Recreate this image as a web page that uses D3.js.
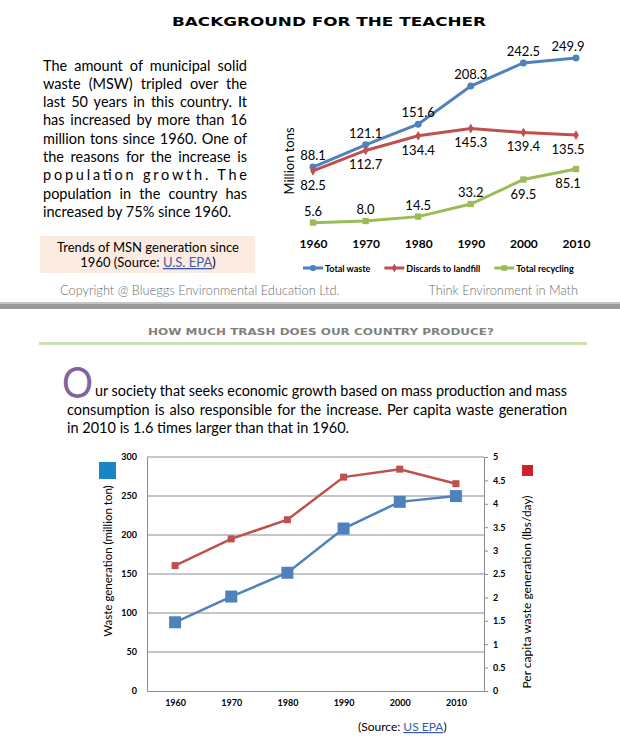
<!DOCTYPE html>
<html>
<head>
<meta charset="utf-8">
<script src="https://cdn.jsdelivr.net/npm/d3@7"></script>
<style>
body { margin: 0; background: #fff; }
svg { display: block; font-family: Lato, "Open Sans", sans-serif; }
</style>
</head>
<body>
<svg id="page"></svg>
<script>
// values
var years = [1960, 1970, 1980, 1990, 2000, 2010];
var totalWaste = [88.1, 121.1, 151.6, 208.3, 242.5, 249.9];
var discards = [82.5, 112.7, 134.4, 145.3, 139.4, 135.5];
var recycling = [5.6, 8.0, 14.5, 33.2, 69.5, 85.1];
var perCapita = [2.68, 3.25, 3.66, 4.57, 4.74, 4.43];
var seriesNames = ["Total waste", "Discards to landfill", "Total recycling"];
var leftTicks = [0, 50, 100, 150, 200, 250, 300];
var rightTicks = [0, 0.5, 1, 1.5, 2, 2.5, 3, 3.5, 4, 4.5, 5];

var introLines = [
    "The amount of municipal solid",
    "waste (MSW) tripled over the",
    "last 50 years in this country.  It",
    "has increased by more than 16",
    "million tons since 1960. One of",
    "the reasons for the increase is",
    "population growth. The",
    "population in the country has",
    "increased by 75%  since 1960."
];
var societyLines = [
    "ur society that seeks economic growth based on mass production and mass",
    "consumption is also responsible for the increase.   Per capita waste generation",
    "in 2010 is 1.6 times larger than that in 1960."
];

var blue = "#4f81bd", red = "#c0504d", green = "#9bbb59";
var fmt1 = d3.format(".1f");

var svg = d3.select("#page").attr("width", 620).attr("height", 738);

// stretch a text line out to a given width, the way Word justifies it
var justify = function(sel, width)
{
    sel.each(function(){
        var node = d3.select(this);
        var natural = this.getComputedTextLength();
        var spaces = (this.textContent.match(/ +/g) || []).length;
        var extra = width - natural;
        if (extra < 0) {
            node.attr("textLength", width).attr("lengthAdjust", "spacingAndGlyphs");
        } else if (spaces >= 3 && extra / spaces < 10) {
            node.attr("word-spacing", extra / spaces);
        } else {
            node.attr("textLength", width).attr("lengthAdjust", "spacing");
        }
    });
}

// ---------- header ----------
svg.append("text")
    .attr("x", 172).attr("y", 26)
    .attr("font-family", "DejaVu Sans").attr("font-weight", "bold")
    .attr("font-size", 12.5)
    .attr("textLength", 314).attr("lengthAdjust", "spacingAndGlyphs")
    .text("BACKGROUND FOR THE TEACHER");

svg.append("g")
    .selectAll("text")
    .data(introLines)
    .enter()
    .append("text")
    .attr("x", 43)
    .attr("y", function(d, i){ return 70.5 + i * 18.3; })
    .attr("font-size", 14.5)
    .attr("fill", "#000")
    .text(function(d){ return d; })
    .filter(function(d, i){ return i < introLines.length - 1; })
    .call(justify, 204);

svg.append("rect")
    .attr("x", 40).attr("y", 236).attr("width", 215).attr("height", 37)
    .attr("fill", "#fcebe0");

var caption = svg.append("g").attr("font-size", 13).attr("text-anchor", "middle").attr("fill", "#000");
caption.append("text").attr("x", 148).attr("y", 252).text("Trends of MSN generation since");
var cap2 = caption.append("text").attr("x", 148).attr("y", 267);
cap2.append("tspan").text("1960 (Source: ");
cap2.append("tspan").attr("fill", "#3b5bab").attr("text-decoration", "underline").text("U.S. EPA");
cap2.append("tspan").text(")");

// ---------- top chart ----------
var topX = d3.scalePoint().domain(years).range([313, 576]);
var topY = d3.scaleLinear().domain([0, 250]).range([226.4, 57.9]);

var topSeries = [
    {name: seriesNames[0], values: totalWaste, color: blue, marker: d3.symbolCircle, size: 38, place: "above"},
    {name: seriesNames[1], values: discards, color: red, marker: d3.symbolDiamond, size: 28, place: "below"},
    {name: seriesNames[2], values: recycling, color: green, marker: d3.symbolSquare, size: 40, place: "mixed"}
];

var topLine = d3.line()
    .x(function(d, i){ return topX(years[i]); })
    .y(function(d){ return topY(d); });

var topChart = svg.append("g").attr("id", "topChart");

topChart.selectAll("path.series")
    .data(topSeries)
    .enter()
    .append("path")
    .attr("class", "series")
    .attr("fill", "none")
    .attr("stroke", function(s){ return s.color; })
    .attr("stroke-width", 3)
    .attr("d", function(s){ return topLine(s.values); });

topSeries.forEach(function(s){
    var g = topChart.append("g");
    g.selectAll("path")
        .data(s.values)
        .enter()
        .append("path")
        .attr("d", d3.symbol().type(s.marker).size(s.size))
        .attr("fill", s.color)
        .attr("transform", function(d, i){ return "translate(" + topX(years[i]) + "," + topY(d) + ")"; });

    g.selectAll("text")
        .data(s.values)
        .enter()
        .append("text")
        .attr("text-anchor", "middle")
        .attr("font-size", 13)
        .attr("fill", "#000")
        .attr("x", function(d, i){ return Math.min(topX(years[i]), 568); })
        .attr("y", function(d, i){
            var above = s.place == "above" || (s.place == "mixed" && i < 4);
            return above ? topY(d) - 7 : topY(d) + 19;
        })
        .text(function(d){ return fmt1(d); });
});

var topAxis = topChart.append("g")
    .attr("transform", "translate(0,236)")
    .call(d3.axisBottom(topX).tickSize(0).tickPadding(3).tickFormat(d3.format("d")));
topAxis.select(".domain").remove();
topAxis.selectAll("text")
    .attr("font-family", "Lato, sans-serif")
    .attr("font-size", 12)
    .attr("font-weight", "bold")
    .attr("fill", "#000");

topChart.append("text")
    .attr("transform", "translate(294,161) rotate(-90)")
    .attr("text-anchor", "middle")
    .attr("font-size", 13)
    .attr("fill", "#000")
    .text("Million tons");

// legend
var legendX = 303;
topSeries.forEach(function(s){
    var item = topChart.append("g").attr("transform", "translate(" + legendX + ",268)");
    item.append("line")
        .attr("x1", 0).attr("x2", 20)
        .attr("stroke", s.color).attr("stroke-width", 3);
    item.append("path")
        .attr("d", d3.symbol().type(s.marker).size(s.size * 0.8))
        .attr("transform", "translate(10,0)")
        .attr("fill", s.color);
    var label = item.append("text")
        .attr("x", 22).attr("y", 3.5)
        .attr("font-size", 9).attr("font-weight", "bold")
        .attr("fill", "#000")
        .text(s.name);
    legendX += 22 + label.node().getComputedTextLength() + 14;
});

// ---------- footer / separator ----------
svg.append("text")
    .attr("x", 60).attr("y", 294.5)
    .attr("font-size", 12.8).attr("font-weight", 300)
    .attr("fill", "#6e6e6e")
    .text("Copyright @ Blueggs Environmental Education Ltd.");
svg.append("text")
    .attr("x", 578).attr("y", 294.5)
    .attr("text-anchor", "end")
    .attr("font-size", 12.8).attr("font-weight", 300)
    .attr("fill", "#6e6e6e")
    .text("Think Environment in Math");

svg.append("rect").attr("x", 0).attr("y", 302).attr("width", 620).attr("height", 2).attr("fill", "#c4c4c4");
svg.append("rect").attr("x", 0).attr("y", 304).attr("width", 620).attr("height", 5).attr("fill", "#999");

svg.append("text")
    .attr("x", 148).attr("y", 334.5)
    .attr("font-family", "DejaVu Sans").attr("font-weight", "bold")
    .attr("font-size", 9.5)
    .attr("fill", "#808080")
    .attr("textLength", 346).attr("lengthAdjust", "spacingAndGlyphs")
    .text("HOW MUCH TRASH DOES OUR COUNTRY PRODUCE?");

svg.append("rect").attr("x", 39).attr("y", 342).attr("width", 548).attr("height", 3).attr("fill", "#cfdfb4");

// ---------- second paragraph ----------
svg.append("text")
    .attr("x", 62).attr("y", 398)
    .attr("font-size", 42)
    .attr("fill", "#8064a2")
    .attr("textLength", 31).attr("lengthAdjust", "spacingAndGlyphs")
    .text("O");

var society = svg.append("g").attr("font-size", 14.5).attr("fill", "#000");
society.selectAll("text")
    .data(societyLines)
    .enter()
    .append("text")
    .attr("x", function(d, i){ return i == 0 ? 95 : 67; })
    .attr("y", function(d, i){ return 396 + i * 18.5; })
    .text(function(d){ return d; })
    .each(function(d, i){
        if (i == 0) justify(d3.select(this), 472);
        if (i == 1) justify(d3.select(this), 500);
    });

// ---------- bottom chart ----------
var plot = {left: 147, right: 484, top: 457, bottom: 691};

var botX = d3.scalePoint().domain(years).range([plot.left, plot.right]).padding(0.5);
var yLeft = d3.scaleLinear().domain([0, 300]).range([plot.bottom, plot.top]);
var yRight = d3.scaleLinear().domain([0, 5]).range([plot.bottom, plot.top]);

var bottom = svg.append("g").attr("id", "bottomChart");

bottom.append("g")
    .selectAll("line")
    .data(leftTicks.slice(1))
    .enter()
    .append("line")
    .attr("x1", plot.left).attr("x2", plot.right)
    .attr("y1", function(d){ return yLeft(d); })
    .attr("y2", function(d){ return yLeft(d); })
    .attr("stroke", "#8c8c8c").attr("stroke-width", 1);

var leftAxis = bottom.append("g")
    .attr("transform", "translate(" + plot.left + ",0)")
    .call(d3.axisLeft(yLeft).tickValues(leftTicks).tickSize(0).tickSizeOuter(0).tickPadding(10));

var rightAxis = bottom.append("g")
    .attr("transform", "translate(" + plot.right + ",0)")
    .call(d3.axisRight(yRight).tickValues(rightTicks).tickSize(4).tickSizeOuter(0).tickPadding(5).tickFormat(d3.format("~")));

var xAxis = bottom.append("g")
    .attr("transform", "translate(0," + plot.bottom + ")")
    .call(d3.axisBottom(botX).tickSize(0).tickSizeOuter(0).tickPadding(9).tickFormat(d3.format("d")));

[leftAxis, rightAxis, xAxis].forEach(function(ax){
    ax.select(".domain").attr("stroke", "#8c8c8c");
    ax.selectAll(".tick line").attr("stroke", "#8c8c8c");
    ax.selectAll("text")
        .attr("font-family", "Lato, sans-serif")
        .attr("font-size", 9)
        .attr("font-weight", "bold")
        .attr("fill", "#000");
});

var wasteLine = d3.line()
    .x(function(d, i){ return botX(years[i]); })
    .y(function(d){ return yLeft(d); });
var capitaLine = d3.line()
    .x(function(d, i){ return botX(years[i]); })
    .y(function(d){ return yRight(d); });

bottom.append("path")
    .attr("fill", "none").attr("stroke", red).attr("stroke-width", 2.5)
    .attr("d", capitaLine(perCapita));
bottom.append("g")
    .selectAll("rect")
    .data(perCapita)
    .enter()
    .append("rect")
    .attr("x", function(d, i){ return botX(years[i]) - 3.5; })
    .attr("y", function(d){ return yRight(d) - 3.5; })
    .attr("width", 7).attr("height", 7)
    .attr("fill", red);

bottom.append("path")
    .attr("fill", "none").attr("stroke", blue).attr("stroke-width", 2.5)
    .attr("d", wasteLine(totalWaste));
bottom.append("g")
    .selectAll("rect")
    .data(totalWaste)
    .enter()
    .append("rect")
    .attr("x", function(d, i){ return botX(years[i]) - 6; })
    .attr("y", function(d){ return yLeft(d) - 6; })
    .attr("width", 12).attr("height", 12)
    .attr("fill", blue);

// axis titles and their colour keys
bottom.append("text")
    .attr("transform", "translate(112,561) rotate(-90)")
    .attr("text-anchor", "middle")
    .attr("font-size", 11.5).attr("fill", "#000")
    .text("Waste generation (million ton)");
bottom.append("text")
    .attr("transform", "translate(531,592) rotate(-90)")
    .attr("text-anchor", "middle")
    .attr("font-size", 12).attr("fill", "#000")
    .text("Per capita waste generation (lbs/day)");

bottom.append("rect").attr("x", 99).attr("y", 462).attr("width", 17).attr("height", 17).attr("fill", "#1b84c7");
bottom.append("rect").attr("x", 522).attr("y", 465).attr("width", 11).attr("height", 11).attr("fill", "#d01f2e");

var source = bottom.append("text")
    .attr("x", 358).attr("y", 731)
    .attr("font-size", 12).attr("fill", "#000");
source.append("tspan").text("(Source: ");
source.append("tspan").attr("fill", "#3b5bab").attr("text-decoration", "underline").text("US EPA");
source.append("tspan").text(")");
</script>
</body>
</html>
